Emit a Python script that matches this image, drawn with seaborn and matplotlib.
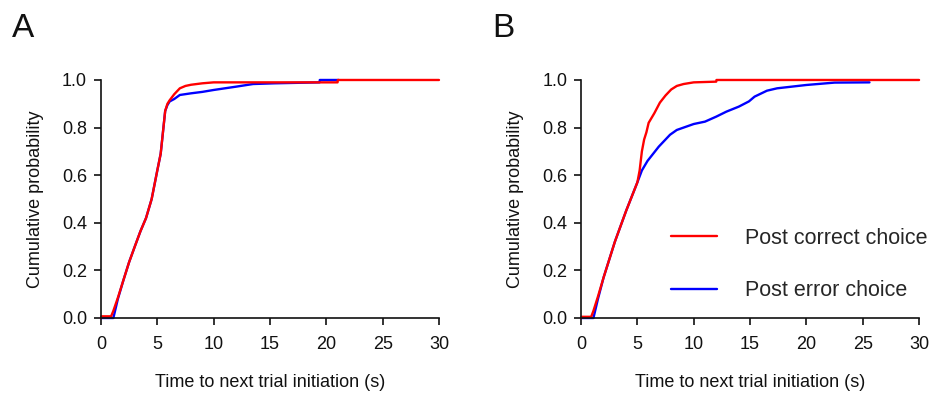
import matplotlib
matplotlib.use("Agg")
import matplotlib.pyplot as plt
import seaborn as sns
import pandas as pd

# Cumulative probability of time to next trial initiation (s)
# Panel A
a_correct_t = [0, 0.05, 0.9, 1.1, 1.5, 2.0, 2.5, 3.0, 3.5, 4.0, 4.5, 5.0, 5.3, 5.5, 5.7,
               5.9, 6.1, 6.5, 7.0, 7.5, 8.0, 9.0, 10.0, 15.0, 21.0, 21.02, 30.0]
a_correct_p = [0, 0.007, 0.007, 0.03, 0.085, 0.16, 0.235, 0.30, 0.364, 0.42, 0.50, 0.62, 0.69,
               0.78, 0.87, 0.90, 0.915, 0.94, 0.965, 0.975, 0.98, 0.986, 0.99, 0.99, 0.99, 1.0, 1.0]
a_error_t = [0, 1.1, 1.5, 2.0, 2.5, 3.0, 3.5, 4.0, 4.5, 5.0, 5.3, 5.5, 5.7, 5.9, 6.1,
             6.5, 7.0, 8.0, 9.0, 10.0, 11.0, 12.0, 13.5, 15.4, 19.4, 19.42, 21.1]
a_error_p = [0, 0, 0.08, 0.16, 0.235, 0.30, 0.364, 0.42, 0.50, 0.62, 0.69, 0.78, 0.87, 0.895, 0.91,
             0.92, 0.937, 0.944, 0.95, 0.958, 0.965, 0.972, 0.983, 0.986, 0.99, 1.0, 1.0]

# Panel B
b_correct_t = [0, 0.05, 0.9, 1.1, 1.5, 2.0, 2.5, 3.0, 3.5, 4.0, 4.5, 5.0, 5.2, 5.4, 5.6, 5.8,
               6.0, 6.5, 7.0, 7.5, 8.0, 8.5, 9.1, 10.0, 12.0, 12.02, 30.0]
b_correct_p = [0, 0.005, 0.005, 0.03, 0.09, 0.17, 0.245, 0.32, 0.385, 0.45, 0.51, 0.57, 0.62,
               0.70, 0.75, 0.78, 0.82, 0.86, 0.905, 0.935, 0.96, 0.975, 0.983, 0.99, 0.993, 1.0, 1.0]
b_error_t = [0, 1.1, 1.5, 2.0, 2.5, 3.0, 3.5, 4.0, 4.5, 5.0, 5.4, 5.9, 6.4, 6.9, 7.3, 7.9,
             8.5, 9.1, 10.0, 11.0, 12.0, 12.9, 14.0, 14.9, 15.4, 16.5, 17.4, 20.0, 22.5, 25.6]
b_error_p = [0, 0, 0.08, 0.17, 0.245, 0.32, 0.385, 0.45, 0.51, 0.57, 0.62, 0.66, 0.69, 0.72,
             0.74, 0.77, 0.79, 0.80, 0.815, 0.825, 0.846, 0.867, 0.888, 0.91, 0.93, 0.955,
             0.965, 0.979, 0.989, 0.99]

series_labels = ["Post correct choice", "Post error choice"]
series_colors = ["#ff0000", "#0000ff"]
x_ticks = [0, 5, 10, 15, 20, 25, 30]
y_ticks = [0.0, 0.2, 0.4, 0.6, 0.8, 1.0]

sns.set_theme(style="ticks")
plt.rcParams["font.family"] = ["Liberation Sans", "DejaVu Sans"]

fig = plt.figure(figsize=(9.34, 3.94), dpi=100)
ax_a = fig.add_axes([0.1081, 0.1929, 0.3619, 0.6041])
ax_b = fig.add_axes([0.6221, 0.1929, 0.3619, 0.6041])


def draw_panel(ax, correct_t, correct_p, error_t, error_p):
    df_err = pd.DataFrame({"t": error_t, "p": error_p})
    df_cor = pd.DataFrame({"t": correct_t, "p": correct_p})
    sns.lineplot(data=df_err, x="t", y="p", ax=ax, color=series_colors[1], lw=1.7,
                 sort=False, estimator=None, clip_on=False, label=series_labels[1])
    sns.lineplot(data=df_cor, x="t", y="p", ax=ax, color=series_colors[0], lw=1.7,
                 sort=False, estimator=None, clip_on=False, label=series_labels[0])
    ax.set_xlim(0, 30)
    ax.set_ylim(0, 1.0)
    ax.set_xticks(x_ticks)
    ax.set_yticks(y_ticks)
    ax.set_xticklabels([str(v) for v in x_ticks])
    ax.set_yticklabels([f"{v:.1f}" for v in y_ticks])
    ax.tick_params(axis="both", direction="out", length=5, width=1.2, labelsize=13,
                   colors="#111111", pad=5)
    ax.tick_params(axis="x", pad=8)
    for side in ("top", "right"):
        ax.spines[side].set_visible(False)
    for side in ("left", "bottom"):
        ax.spines[side].set_linewidth(1.2)
        ax.spines[side].set_color("#111111")
    ax.set_xlabel("Time to next trial initiation (s)", fontsize=13, labelpad=15,
                  color="#111111")
    ax.set_ylabel("Cumulative probability", fontsize=13, labelpad=13, color="#111111")
    ax.legend_.remove()


draw_panel(ax_a, a_correct_t, a_correct_p, a_error_t, a_error_p)
draw_panel(ax_b, b_correct_t, b_correct_p, b_error_t, b_error_p)

# Legend in panel B, correct first
handles, labels = ax_b.get_legend_handles_labels()
order = [labels.index(series_labels[0]), labels.index(series_labels[1])]
ax_b.legend([handles[i] for i in order], [labels[i] for i in order],
            loc="upper left", bbox_to_anchor=(0.21, 0.46), frameon=False,
            fontsize=15.5, handlelength=2.1, handletextpad=1.3, labelspacing=1.45)

fig.text(0.013, 0.905, "A", fontsize=24, color="#111111")
fig.text(0.527, 0.905, "B", fontsize=24, color="#111111")

fig.savefig("out.png", dpi=100, facecolor="white")
